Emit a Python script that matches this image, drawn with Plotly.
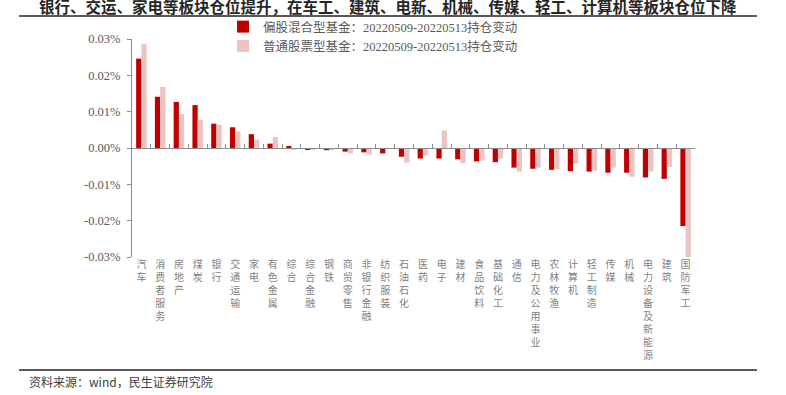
import plotly.graph_objects as go

categories = ["汽车", "消费者服务", "房地产", "煤炭", "银行", "交通运输", "家电", "有色金属", "综合", "综合金融",
              "钢铁", "商贸零售", "非银行金融", "纺织服装", "石油石化", "医药", "电子", "建材", "食品饮料", "基础化工",
              "通信", "电力及公用事业", "农林牧渔", "计算机", "轻工制造", "传媒", "机械", "电力设备及新能源", "建筑", "国防军工"]

hybrid_fund = [0.0246, 0.0141, 0.0127, 0.0118, 0.0067, 0.0057, 0.0038, 0.0012, 0.0004, -0.0005,
               -0.0006, -0.0010, -0.0012, -0.0015, -0.0024, -0.0029, -0.0029, -0.0031, -0.0037, -0.0039,
               -0.0054, -0.0057, -0.0060, -0.0064, -0.0065, -0.0068, -0.0068, -0.0081, -0.0085, -0.0215]

stock_fund = [0.0286, 0.0168, 0.0093, 0.0078, 0.0064, 0.0046, 0.0023, 0.0030, -0.0004, -0.0003,
              -0.0006, -0.0015, -0.0018, -0.0001, -0.0040, -0.0020, 0.0048, -0.0042, -0.0035, -0.0029,
              -0.0065, -0.0054, -0.0058, -0.0042, -0.0062, -0.0054, -0.0079, -0.0065, -0.0052, -0.0302]

series_names = ["偏股混合型基金：20220509-20220513持仓变动", "普通股票型基金：20220509-20220513持仓变动"]
y_tick_vals = [0.03, 0.02, 0.01, 0.0, -0.01, -0.02, -0.03]
y_tick_text = ["0.03%", "0.02%", "0.01%", "0.00%", "-0.01%", "-0.02%", "-0.03%"]

title_text = "银行、交运、家电等板块仓位提升，在车工、建筑、电新、机械、传媒、轻工、计算机等板块仓位下降"
source_text = "资料来源：wind，民生证券研究院"

W, H = 786, 395
# paper area spans the two horizontal rules (x 19..757, y 16..370)
L, R, T, B = 19, 29, 16, 25
PW, PH = W - L - R, H - T - B
# plot area inside the paper area
PLOT_X0, PLOT_X1, PLOT_Y0, PLOT_Y1 = 132, 695, 39, 257


def px_x(x):
    return (x - L) / PW


def px_y(y):
    return (H - B - y) / PH


x_domain = [px_x(PLOT_X0), px_x(PLOT_X1)]
y_domain = [px_y(PLOT_Y1), px_y(PLOT_Y0)]
y_range = [-0.03, 0.03]
zero_pos = y_domain[0] + (0 - y_range[0]) / (y_range[1] - y_range[0]) * (y_domain[1] - y_domain[0])

serif = "Liberation Serif, Noto Sans CJK SC, serif"
gray = "#595959"
axis_gray = "#8c8c8c"
rule_gray = "#595959"

fig = go.Figure()
fig.add_trace(go.Bar(x=categories, y=hybrid_fund, name=series_names[0], marker_color="#C00000",
                     marker_line_width=0))
fig.add_trace(go.Bar(x=categories, y=stock_fund, name=series_names[1], marker_color="#ECC3C3",
                     marker_line_width=0))
# helper traces so the extra axes (zero line with ticks, header rule) get drawn
fig.add_trace(go.Scatter(x=categories, y=[0] * len(categories), xaxis="x2", mode="none",
                         showlegend=False, hoverinfo="skip"))
fig.add_trace(go.Scatter(x=[0], y=[0], xaxis="x3", mode="none", showlegend=False, hoverinfo="skip"))

fig.update_layout(
    width=W, height=H,
    margin=dict(l=L, r=R, t=T, b=B, pad=0, autoexpand=False),
    paper_bgcolor="white", plot_bgcolor="rgba(0,0,0,0)",
    barmode="group", bargap=0.44, bargroupgap=0,
    font=dict(family=serif, size=12, color=gray),
    xaxis=dict(domain=x_domain, type="category", categoryarray=categories, showline=False, ticks="",
               tickvals=categories, ticktext=["<br>".join(c) for c in categories],
               tickfont=dict(family="Noto Sans CJK SC", size=10, color="#7f7f7f"),
               tickangle=0, showgrid=False, zeroline=False, range=[-0.5, len(categories) - 0.5]),
    xaxis2=dict(type="category", categoryarray=categories, overlaying="x", anchor="free",
                position=zero_pos, side="bottom", showline=True, linecolor=axis_gray, linewidth=1,
                ticks="inside", tickson="boundaries", ticklen=4, tickcolor=axis_gray,
                showticklabels=False, showgrid=False, zeroline=False, range=[-0.5, len(categories) - 0.5]),
    xaxis3=dict(domain=[0, 1], anchor="free", position=1, side="top", range=[0, 1],
                showline=True, linecolor=rule_gray, linewidth=2, ticks="", showticklabels=False,
                showgrid=False, zeroline=False),
    yaxis=dict(domain=y_domain, range=y_range, tickvals=y_tick_vals, ticktext=y_tick_text, showline=True,
               linecolor=axis_gray, linewidth=1, ticks="outside", ticklen=4, tickcolor=axis_gray,
               ticklabelstandoff=4,
               showgrid=False, zeroline=False, tickfont=dict(family=serif, size=12.5, color=gray)),
    legend=dict(x=px_x(223), y=px_y(12), xanchor="left", yanchor="top", orientation="v",
                font=dict(family=serif, size=12.5, color=gray), bgcolor="rgba(0,0,0,0)",
                tracegroupgap=0, itemclick=False),
    showlegend=True,
)

fig.add_annotation(text="<b>" + title_text + "</b>", xref="paper", yref="paper",
                   x=px_x(388), y=px_y(6), xanchor="center", yanchor="middle", showarrow=False,
                   font=dict(family="Noto Sans CJK SC", size=15.5, color="#262626"))
fig.add_annotation(text=source_text, xref="paper", yref="paper",
                   x=px_x(27), y=px_y(381), xanchor="left", yanchor="middle", showarrow=False,
                   font=dict(family="Noto Sans CJK SC", size=12, color="#404040"))

# bottom rule along the lower edge of the paper area
fig.add_shape(type="line", xref="paper", yref="paper", x0=0, x1=1, y0=0, y1=0,
              line=dict(color=rule_gray, width=2), layer="above")

fig.write_html("out.html", config={"displayModeBar": False},
               post_script="document.body.style.margin='0';")
